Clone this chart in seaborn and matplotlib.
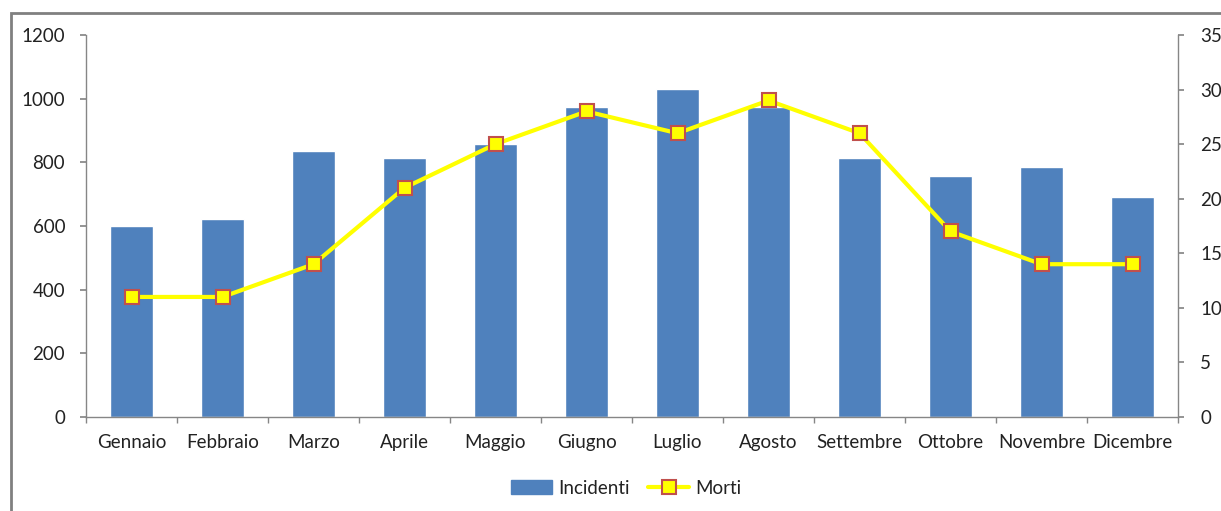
import matplotlib
matplotlib.use("Agg")
import matplotlib.pyplot as plt
import seaborn as sns
import pandas as pd
from matplotlib.patches import Rectangle, Patch
from matplotlib.lines import Line2D

months = ["Gennaio", "Febbraio", "Marzo", "Aprile", "Maggio", "Giugno",
          "Luglio", "Agosto", "Settembre", "Ottobre", "Novembre", "Dicembre"]
incidenti = [600, 622, 836, 814, 858, 974, 1030, 974, 814, 757, 785, 691]
morti = [11, 11, 14, 21, 25, 28, 26, 29, 26, 17, 14, 14]

df = pd.DataFrame({"Mese": months, "Incidenti": incidenti, "Morti": morti})

sns.set_theme(style="white")
plt.rcParams['font.family'] = ['Lato', 'DejaVu Sans']

fig = plt.figure(figsize=(12.21, 5.11), dpi=100)
ax = fig.add_axes([86/1221, 94/511, (1178-86)/1221, (417-35)/511])

fs = 13.5
txt_c = "#222222"
bar_c = "#4F81BD"
sns.barplot(data=df, x="Mese", y="Incidenti", color=bar_c, width=0.47,
            saturation=1, ax=ax, order=months)
ax.set_ylim(0, 1200)
ax.set_yticks(range(0, 1201, 200))
ax.set_xlim(-0.5, 11.5)
ax.set_xlabel("")
ax.set_ylabel("")

ax2 = ax.twinx()
sns.pointplot(data=df, x="Mese", y="Morti", order=months, color="#FFFF00",
              markers="s", linewidth=3, markersize=10, ax=ax2)
for ln in ax2.lines:
    ln.set_markeredgecolor("#C0504D")
    ln.set_markerfacecolor("#FFFF00")
    ln.set_markeredgewidth(1.5)
    ln.set_zorder(5)
ax2.set_ylim(0, 35)
ax2.set_yticks(range(0, 36, 5))
ax2.set_xlim(-0.5, 11.5)
ax2.set_ylabel("")
ax2.set_xlabel("")

spc = "#868686"
for a in (ax, ax2):
    a.spines["top"].set_visible(False)
    for s in ("left", "right", "bottom"):
        a.spines[s].set_color(spc)
        a.spines[s].set_linewidth(1)
ax.spines["right"].set_visible(False)
ax2.spines["left"].set_visible(False)
ax2.spines["bottom"].set_visible(False)

ax.set_xticks([i - 0.5 for i in range(13)], minor=True)
ax.tick_params(axis="x", which="major", length=0, labelsize=fs, colors=txt_c, pad=12)
ax.tick_params(axis="x", which="minor", length=4, color=spc, direction="out", bottom=True)
ax.tick_params(axis="y", length=4, color=spc, direction="out", left=True, labelsize=fs,
               labelcolor=txt_c, pad=11)
ax2.tick_params(axis="y", length=4, color=spc, direction="out", right=True, labelsize=fs,
                labelcolor=txt_c, pad=12)

handles = [Patch(facecolor=bar_c, edgecolor=bar_c, label="Incidenti"),
           Line2D([0], [0], color="#FFFF00", lw=3, marker="s", markersize=10,
                  markerfacecolor="#FFFF00", markeredgecolor="#C0504D",
                  markeredgewidth=1.5, label="Morti")]
fig.legend(handles=handles, loc="center", bbox_to_anchor=(626/1221, 1 - 488/511),
           ncol=2, frameon=False, fontsize=fs, handlelength=2.2, columnspacing=1.0,
           handletextpad=0.3, labelcolor=txt_c)

fig.patches.append(Rectangle((11/1221, -0.05), 1.1, 1 - 13/511 + 0.05,
                             transform=fig.transFigure, fill=False,
                             edgecolor="#808080", linewidth=2, zorder=0))

fig.savefig("out.png", dpi=100)
